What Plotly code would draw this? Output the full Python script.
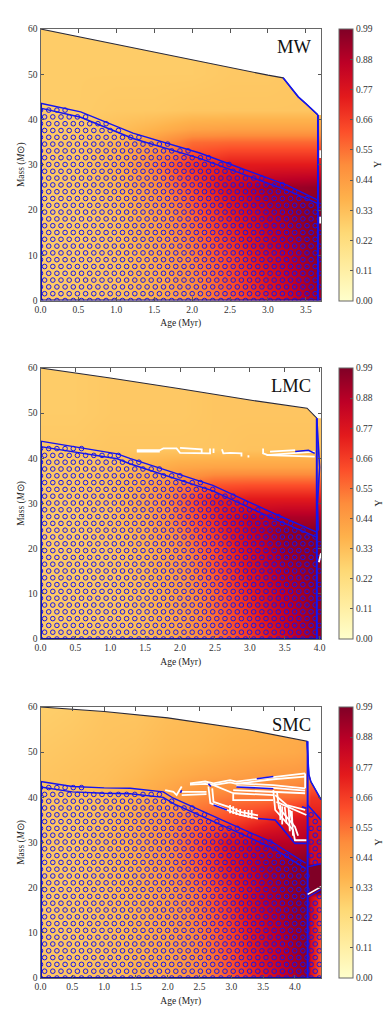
"""
Helium fraction Y on the age-mass plane for MW, LMC and SMC tracks
"""
import numpy as np
import plotly.graph_objects as go

YLORRD = ["#ffffcc", "#ffeda0", "#fed976", "#feb24c", "#fd8d3c",
          "#fc4e2a", "#e31a1c", "#bd0026", "#800026"]
BLUE = "#1414f0"
FONT = "Liberation Serif"

cbar_ticks = [0.0, 0.11, 0.22, 0.33, 0.44, 0.55, 0.66, 0.77, 0.88, 0.99]
age_ticks = [0.0, 0.5, 1.0, 1.5, 2.0, 2.5, 3.0, 3.5, 4.0]
mass_ticks = [0, 10, 20, 30, 40, 50, 60]

# ---- MW
mw_age = [0, 0.5, 1, 1.5, 2, 2.5, 3, 3.5, 3.7]
mw_mass = [0, 10, 20, 25, 30, 35, 38, 42, 50, 60]
mw_y = [
    [.29, .30, .32, .37, .47, .60, .72, .88, .93],
    [.29, .30, .33, .40, .52, .65, .80, .93, .97],
    [.29, .30, .34, .44, .58, .74, .88, .97, .98],
    [.29, .31, .36, .48, .63, .80, .92, .94, .95],
    [.30, .31, .38, .52, .68, .75, .75, .75, .75],
    [.30, .31, .36, .46, .56, .57, .57, .57, .57],
    [.29, .30, .33, .37, .42, .43, .43, .43, .43],
    [.29, .29, .30, .30, .31, .31, .31, .31, .31],
    [.29, .29, .29, .29, .29, .30, .30, .31, .31],
    [.29, .29, .29, .29, .29, .30, .30, .31, .31],
]
mw_top_age = [0, 1, 2.1, 2.5, 3, 3.2, 3.3, 3.4, 3.5, 3.66]
mw_top_mass = [60, 56.6, 52.8, 51.4, 49.8, 49.2, 47, 45, 43.5, 41]
mw_band_age = [0, 0.53, 1.22, 2.1, 3.25, 3.66]
mw_band_upper = [43.6, 41.7, 37, 32.6, 25.5, 22.2]
mw_band_lower = [42.5, 40.5, 35.8, 31.4, 24.4, 21.4]

# ---- LMC
lmc_age = [0, 0.5, 1, 1.5, 2, 2.5, 3, 3.5, 4, 4.03]
lmc_mass = [0, 10, 20, 24, 27, 31, 34, 38, 42, 50, 60]
lmc_y = [
    [.29, .30, .31, .34, .42, .54, .66, .82, .95, .95],
    [.29, .30, .31, .35, .44, .57, .72, .87, .97, .97],
    [.29, .30, .32, .37, .48, .63, .80, .94, .98, .98],
    [.29, .30, .33, .39, .52, .67, .84, .96, .98, .98],
    [.29, .30, .33, .41, .55, .70, .86, .90, .90, .90],
    [.30, .31, .34, .42, .56, .72, .75, .75, .75, .75],
    [.30, .31, .34, .41, .53, .61, .62, .62, .62, .62],
    [.30, .31, .33, .37, .41, .42, .42, .42, .42, .42],
    [.30, .30, .31, .31, .31, .31, .32, .32, .32, .32],
    [.29, .29, .30, .30, .30, .31, .31, .31, .31, .31],
    [.29, .29, .30, .30, .30, .31, .31, .31, .31, .31],
]
lmc_top_age = [0, 1, 2, 3, 3.82, 3.96]
lmc_top_mass = [60, 57.8, 55.4, 52.9, 51.1, 48.9]
lmc_band_age = [0, 1.1, 1.28, 2.47, 3.33, 3.95]
lmc_band_upper = [43.8, 41, 40, 34, 27.9, 23.7]
lmc_band_lower = [42.6, 39.9, 38.8, 32.8, 26.7, 22.6]
lmc_white = [
    ([1.38, 1.71, 1.76, 1.95, 2.0, 2.43, 2.43], [41.8, 41.8, 42.2, 42.2, 41.2, 41.1, 42.2]),
    ([1.38, 1.71], [41.5, 41.5]),
    ([2.0, 2.31, 2.31], [42.3, 42.0, 41.2]),
    ([2.48, 2.48], [42.2, 41.2]),
    ([2.6, 2.62, 2.72, 2.88, 2.88], [42.0, 41.1, 41.2, 41.1, 40.4]),
    ([2.98, 2.98], [40.7, 40.2]),
    ([3.19, 3.19, 3.26, 3.93], [42.2, 41.1, 40.7, 40.4]),
    ([3.29, 3.62, 3.65], [41.5, 41.7, 41.8]),
    ([3.24, 3.93], [40.7, 41.5]),
    ([3.99, 4.02], [17, 19]),
]
lmc_blue = [
    ([3.65, 3.84, 3.93], [41.5, 41.8, 41.1]),
    ([3.96, 4.0, 3.97, 3.98], [48.9, 38, 30, 24]),
]

# ---- SMC
smc_age = [0, 0.5, 1, 1.5, 2, 2.5, 3, 3.5, 4, 4.2, 4.25, 4.41]
smc_mass = [0, 10, 18, 19, 25, 25.5, 30, 35, 40, 45, 50, 60]
smc_y = [
    [.30, .31, .33, .36, .41, .49, .60, .75, .90, .96, .78, .55],
    [.30, .31, .33, .37, .43, .52, .65, .82, .94, .97, .82, .60],
    [.30, .31, .34, .38, .45, .55, .70, .87, .96, .98, .85, .65],
    [.30, .31, .34, .38, .45, .55, .70, .87, .96, .98, .99, .99],
    [.30, .31, .34, .39, .48, .60, .76, .90, .97, .98, .99, .99],
    [.30, .31, .34, .39, .48, .60, .76, .90, .97, .98, .82, .82],
    [.31, .31, .35, .40, .49, .62, .78, .88, .88, .90, .80, .80],
    [.31, .31, .34, .40, .48, .58, .64, .70, .78, .80, .75, .75],
    [.31, .32, .34, .38, .43, .50, .53, .54, .56, .58, .68, .68],
    [.31, .32, .33, .35, .38, .41, .43, .45, .46, .47, .50, .50],
    [.30, .31, .32, .33, .35, .36, .38, .39, .40, .41, .42, .42],
    [.28, .29, .31, .31, .33, .34, .35, .36, .38, .38, .38, .38],
]
smc_top_age = [0, 1, 2, 3.29, 4.19, 4.22, 4.25, 4.41]
smc_top_mass = [60, 59, 57.6, 54.9, 52.4, 45, 43.5, 39.5]
smc_band_age = [0, 0.5, 1, 1.41, 1.93, 2.09, 2.98, 3.66, 4.17]
smc_band_upper = [43.5, 42.4, 42.1, 42, 41.2, 39.8, 34.2, 29.9, 25.4]
smc_band_lower = [42.3, 41.2, 40.9, 40.8, 40, 38.6, 33, 28.7, 24.2]
smc_strip_age = [4.2, 4.41]
smc_strip_upper = [38.3, 35]
smc_strip_lower = [24.6, 25.3]
smc_step_age = [4.2, 4.41]
smc_step_mass = [18, 19.7]
smc_white = [
    ([1.96, 2.09, 2.14, 2.22], [41.6, 41.2, 40.5, 42.4]),
    ([2.22, 2.61], [41.2, 41.2]),
    ([2.22, 2.61], [40.5, 40.7]),
    ([2.35, 2.59, 2.72, 2.98, 3.08, 3.50, 3.66, 4.16], [43.1, 43.5, 43.1, 43.8, 43.5, 44.2, 44.6, 45.3]),
    ([2.35, 2.59, 2.72, 2.98, 3.08, 3.50, 3.66, 4.16], [42.8, 43.0, 42.7, 43.3, 43.0, 43.7, 44.0, 44.6]),
    ([3.08, 3.66, 4.16], [43.1, 42.7, 42.0]),
    ([3.08, 3.66, 4.16], [42.5, 42.1, 41.5]),
    ([3.03, 3.66, 4.16], [41.6, 41.2, 40.9]),
    ([3.03, 3.66], [40.9, 40.5]),
    ([2.72, 3.03, 3.03, 3.66], [42.7, 40.9, 39.4, 39.4]),
    ([2.64, 2.67, 2.93, 3.14, 3.42], [42.4, 38.7, 37.2, 36.1, 35.3]),
    ([2.70, 2.72, 2.98, 3.14, 3.42], [42.0, 39.0, 37.8, 36.8, 36.0]),
    ([3.66, 3.69, 3.97, 4.00, 4.18], [41.6, 37.2, 32.8, 30.5, 30.5]),
    ([3.72, 3.75, 4.00, 4.05], [41.0, 37.6, 33.5, 31.5]),
    ([2.98, 2.98], [38.3, 36.5]),
    ([3.03, 3.03], [38.0, 36.3]),
    ([3.08, 3.08], [37.6, 36.1]),
    ([3.14, 3.14], [37.4, 35.9]),
    ([3.21, 3.21], [37.2, 35.7]),
    ([3.27, 3.27], [37.2, 35.5]),
    ([3.32, 3.32], [37.2, 35.3]),
    ([3.69, 3.87, 4.16], [40.5, 38.3, 37.2]),
    ([3.71, 4.18], [39.0, 36.1]),
    ([3.92, 3.97], [37.2, 33.5]),
    ([3.84, 3.87], [37.9, 34.2]),
    ([3.77, 3.77], [38.3, 35.0]),
    ([3.80, 3.80], [38.0, 34.0]),
    ([3.90, 3.92], [38.0, 32.5]),
    ([3.95, 3.97], [37.0, 31.5]),
    ([4.16, 4.16], [45.3, 42.0]),
]
smc_blue = [
    ([3.40, 3.66], [44.1, 44.6]),
    ([3.08, 3.66], [42.3, 41.9]),
    ([2.72, 2.93], [38.3, 37.2]),
    ([3.42, 3.69, 3.82, 4.00, 4.18], [35.3, 35.0, 32.8, 29.8, 29.8]),
    ([4.11, 4.18], [37.9, 37.6]),
    ([2.64, 2.68], [43.0, 42.4]),
    ([2.20, 2.22], [41.0, 41.6]),
]

PANELS = [
    dict(name="MW", age=mw_age, mass=mw_mass, y=mw_y, xmax=3.7, top=(29, 300.5),
         top_age=mw_top_age, top_mass=mw_top_mass,
         band_age=mw_band_age, band_upper=mw_band_upper, band_lower=mw_band_lower,
         edge_age=3.66, white=[([3.69, 3.69], [33.2, 31.5]), ([3.69, 3.69], [18.5, 17])], blue=[]),
    dict(name="LMC", age=lmc_age, mass=lmc_mass, y=lmc_y, xmax=4.02, top=(368, 639),
         top_age=lmc_top_age, top_mass=lmc_top_mass,
         band_age=lmc_band_age, band_upper=lmc_band_upper, band_lower=lmc_band_lower,
         edge_age=3.96, white=lmc_white, blue=lmc_blue),
    dict(name="SMC", age=smc_age, mass=smc_mass, y=smc_y, xmax=4.41, top=(707, 978),
         top_age=smc_top_age, top_mass=smc_top_mass,
         band_age=smc_band_age, band_upper=smc_band_upper, band_lower=smc_band_lower,
         edge_age=4.2, white=smc_white, blue=smc_blue),
]

W, H = 391, 1010
X0, X1 = 40.5, 321
fig = go.Figure()


def hatch_points(panel):
    """Rejilla de circulos alternados por debajo de la banda superior"""
    dx = 8.2 / ((X1 - X0) / panel["xmax"])
    dy = 6.8 / ((panel["top"][1] - panel["top"][0]) / 60)
    xs, ys = [], []
    for row in range(int(46 / dy)):
        yy = row * dy
        start = 0.0 if row % 2 == 0 else dx / 2
        for xx in np.arange(start, panel["xmax"], dx):
            if xx <= panel["edge_age"] or panel["name"] != "SMC":
                keep = yy <= np.interp(xx, panel["band_age"], panel["band_upper"]) - 0.1
            else:
                strip = np.interp(xx, smc_strip_age, smc_strip_upper)
                low = np.interp(xx, smc_step_age, smc_step_mass)
                keep = yy < low - 0.5 or (np.interp(xx, smc_strip_age, smc_strip_lower) < yy < strip - 0.5)
            if keep:
                xs.append(xx)
                ys.append(yy)
    return xs, ys


for i, p in enumerate(PANELS):
    n = "" if i == 0 else str(i + 1)
    xref, yref = f"x{n}", f"y{n}"
    t, b = p["top"]

    fig.add_trace(go.Heatmap(
        x=p["age"], y=p["mass"], z=p["y"],
        xaxis=xref, yaxis=yref,
        zmin=0, zmax=0.99, zsmooth="best",
        colorscale=[[j / 8, c] for j, c in enumerate(YLORRD)],
        colorbar=dict(
            x=339 / W, xanchor="left", xpad=0,
            y=1 - t / H, yanchor="top", ypad=0,
            len=(b - t) / H, thickness=13.5,
            outlinecolor="#666", outlinewidth=1,
            tickmode="array", tickvals=cbar_ticks,
            ticktext=[f"{v:.2f}" for v in cbar_ticks],
            ticks="inside", ticklen=3, tickcolor="#555",
            tickfont=dict(family=FONT, size=9.5, color="#333"),
        ),
    ))

    # Zona sin modelos, por encima de la linea superior
    fig.add_trace(go.Scatter(
        x=p["top_age"] + [p["xmax"], p["xmax"], 0],
        y=p["top_mass"] + [p["top_mass"][-1], 60, 60],
        xaxis=xref, yaxis=yref, mode="lines", fill="toself",
        fillcolor="white", line=dict(width=0), hoverinfo="skip",
    ))
    fig.add_trace(go.Scatter(
        x=p["top_age"], y=p["top_mass"], xaxis=xref, yaxis=yref,
        mode="lines", line=dict(color="#2a2a3a", width=1.1), hoverinfo="skip",
    ))

    # Hatch de circulos
    hx, hy = hatch_points(p)
    fig.add_trace(go.Scatter(
        x=hx, y=hy, xaxis=xref, yaxis=yref, mode="markers",
        marker=dict(symbol="circle-open", size=4.6, color=BLUE, line=dict(width=1, color=BLUE)),
        hoverinfo="skip",
    ))

    # Lineas de la banda y bordes
    for key in ("band_upper", "band_lower"):
        fig.add_trace(go.Scatter(
            x=p["band_age"], y=p[key], xaxis=xref, yaxis=yref,
            mode="lines", line=dict(color=BLUE, width=1.4), hoverinfo="skip",
        ))
    fig.add_trace(go.Scatter(
        x=[0, 0], y=[0, p["band_upper"][0]], xaxis=xref, yaxis=yref,
        mode="lines", line=dict(color="#1010c0", width=3), hoverinfo="skip",
    ))
    fig.add_trace(go.Scatter(
        x=[0, p["xmax"]], y=[0, 0], xaxis=xref, yaxis=yref,
        mode="lines", line=dict(color="#1010a0", width=2), hoverinfo="skip",
    ))
    fig.add_trace(go.Scatter(
        x=[p["edge_age"], p["edge_age"]], y=[p["top_mass"][-1] if p["name"] != "SMC" else 52.4, 0],
        xaxis=xref, yaxis=yref, mode="lines", line=dict(color=BLUE, width=2), hoverinfo="skip",
    ))

    if p["name"] == "MW":
        fig.add_trace(go.Scatter(
            x=p["top_age"][-5:], y=p["top_mass"][-5:], xaxis=xref, yaxis=yref,
            mode="lines", line=dict(color=BLUE, width=1.6), hoverinfo="skip",
        ))
    if p["name"] == "SMC":
        for xs, ys, color, width in [
            (smc_strip_age, smc_strip_upper, BLUE, 1.5),
            (smc_strip_age, smc_strip_lower, BLUE, 1.5),
            (smc_step_age, [v + 0.5 for v in smc_step_mass], "white", 1.5),
            (smc_step_age, [v - 0.1 for v in smc_step_mass], BLUE, 1.2),
            (p["top_age"][-4:], p["top_mass"][-4:], BLUE, 1.5),
        ]:
            fig.add_trace(go.Scatter(
                x=xs, y=ys, xaxis=xref, yaxis=yref,
                mode="lines", line=dict(color=color, width=width), hoverinfo="skip",
            ))

    for xs, ys in p["white"]:
        fig.add_trace(go.Scatter(
            x=xs, y=ys, xaxis=xref, yaxis=yref,
            mode="lines", line=dict(color="white", width=1.8), hoverinfo="skip",
        ))
    for xs, ys in p["blue"]:
        fig.add_trace(go.Scatter(
            x=xs, y=ys, xaxis=xref, yaxis=yref,
            mode="lines", line=dict(color=BLUE, width=1.6), hoverinfo="skip",
        ))

    fig.update_layout({
        f"xaxis{n}": dict(
            domain=[X0 / W, X1 / W], anchor=yref, range=[0, p["xmax"]],
            tickmode="array", tickvals=[v for v in age_ticks if v <= p["xmax"]],
            ticktext=[f"{v:.1f}" for v in age_ticks if v <= p["xmax"]],
            ticks="inside", ticklen=3.5, tickcolor="#555", mirror="ticks",
            showline=True, linecolor="#666", linewidth=1, showgrid=False, zeroline=False,
            tickfont=dict(family=FONT, size=9.5, color="#333"),
            title=dict(text="Age (Myr)", font=dict(family=FONT, size=9.5, color="#222"), standoff=5),
        ),
        f"yaxis{n}": dict(
            domain=[1 - b / H, 1 - t / H], anchor=xref, range=[0, 60],
            tickmode="array", tickvals=mass_ticks,
            ticks="inside", ticklen=3.5, tickcolor="#555", mirror="ticks",
            showline=True, linecolor="#666", linewidth=1, showgrid=False, zeroline=False,
            tickfont=dict(family=FONT, size=9.5, color="#333"),
            title=dict(text="Mass (<i>M</i>⊙)", font=dict(family=FONT, size=9.5, color="#222"), standoff=1),
        ),
    })

    fig.add_annotation(
        text=p["name"], xref=f"{xref} domain", yref=f"{yref} domain", x=0.972, y=0.978,
        xanchor="right", yanchor="top", showarrow=False,
        font=dict(family=FONT, size=18.5, color="#111"),
    )
    fig.add_annotation(
        text="Y", xref="paper", yref="paper", x=378 / W, y=1 - (t + b) / 2 / H,
        xanchor="center", yanchor="middle", showarrow=False, textangle=-90,
        font=dict(family=FONT, size=9.5, color="#222"),
    )

fig.update_layout(
    width=W, height=H,
    margin=dict(l=0, r=0, t=0, b=0, autoexpand=False),
    paper_bgcolor="white", plot_bgcolor="white",
    showlegend=False,
)

fig.write_html("out.html", post_script="document.body.style.margin='0';",
               config=dict(displayModeBar=False))
